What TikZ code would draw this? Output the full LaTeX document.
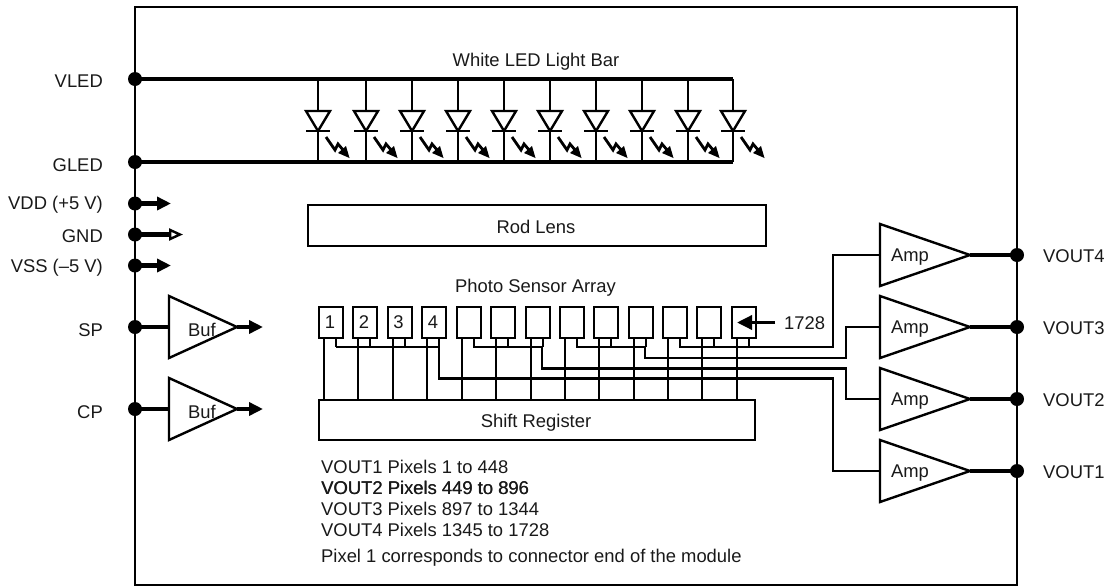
\documentclass[tikz,border=0pt]{standalone}
\usepackage{fontspec}
\setmainfont{Liberation Sans}
\usetikzlibrary{arrows.meta}
\tikzset{
  x=1pt,y=-1pt,
  lbl/.style={inner sep=0pt,font=\fontsize{18.4}{20}\selectfont,text=black!90},
  lblL/.style={lbl,anchor=east},
  lblR/.style={lbl,anchor=west},
  thick bar/.style={line width=4.4pt},
  wire/.style={line width=2.4pt},
  frameline/.style={line width=2.4pt},
  tri/.style={line width=2.4pt,line join=miter,fill=white},
  pindot/.style={circle,fill=black,inner sep=0pt,minimum size=14pt},
  boxs/.style={draw,line width=2.4pt,fill=white,inner sep=0pt,anchor=north west},
}
\newcommand{\LED}[2]{%
  \draw[wire] (#1,79) -- (#1,162);
  \draw[tri] (#1-12,111) -- (#1+12,111) -- (#1,131) -- cycle;
  \draw[wire] (#1-12,131) -- (#1+12,131);
  \draw[line width=2.8pt] (#1+8,137) -- (#1+17,150) -- (#1+20,144) -- (#1+26,151);
  \fill (#1+31.5,158) -- (#1+20,153) -- (#1+28,146) -- cycle;
}
\newcommand{\Amp}[2]{% name, centre y
  \coordinate (#1in) at (880,#2);
  \coordinate (#1out) at (970,#2);
  \node[pindot] (#1pin) at (1017,#2) {};
  \draw[thick bar] (#1out) -- (#1pin.center);
  \draw[tri] (880,#2-31) -- (970,#2) -- (880,#2+31) -- cycle;
  \node[lbl] (#1t) at (910,#2+2) {Amp};
}
\newcommand{\Buf}[2]{%
  \node[pindot] (#1pin) at (135,#2) {};
  \coordinate (#1tip) at (263,#2);
  \coordinate (#1apex) at (237,#2);
  \draw[thick bar] (#1pin.center) -- (169,#2);
  \draw[thick bar,-{Triangle[length=14pt,width=13pt]}] (#1apex) -- (#1tip);
  \draw[tri] (169,#2-31) -- (237,#2) -- (169,#2+31) -- cycle;
  \node[lbl] (#1t) at (202,#2+3) {Buf};
}
\newcommand{\Rail}[2]{%
  \node[pindot] (#1pin) at (135,#2) {};
  \coordinate (#1tip) at (171,#2);
  \draw[thick bar,-{Triangle[length=14pt,width=13pt]}] (#1pin.center) -- (#1tip);
}
\begin{document}
\begin{tikzpicture}
\useasboundingbox (0,0) rectangle (1112,587);
% frame
\draw[frameline] (135,7) rectangle (1017,585);
% LED bars
\foreach \p in {318,366,412,458,504,550,596,642,688,733}{\LED{\p}{}}
\node[pindot] (vledpin) at (135,79) {};
\node[pindot] (gledpin) at (135,162) {};
\coordinate (vledend) at (733,79);
\coordinate (gledend) at (733,162);
\draw[thick bar] (vledpin.center) -- (vledend);
\draw[thick bar] (gledpin.center) -- (gledend);
\node[lbl] (title) at (536,62) {White LED Light Bar};
% rails
\Rail{vdd}{203.5}
\Rail{vss}{265.5}
\node[pindot] (gndpin) at (135,234.5) {};
\coordinate (gndtip) at (183,234.5);
\draw[thick bar,-{Triangle[open,fill=white,length=14pt,width=12pt,line width=2.4pt]}] (gndpin.center) -- (gndtip);
% left labels
\node[lblL] (l1) at (103,81) {VLED};
\node[lblL] (l2) at (103,165) {GLED};
\node[lblL] (l3) at (103,205) {VDD (+5 V)};
\node[lblL] (l4) at (103,236) {GND};
\node[lblL] (l5) at (103,268) {VSS (–5 V)};
\node[lblL] (l6) at (103,330) {SP};
\node[lblL] (l7) at (103,412) {CP};
% buffers
\Buf{sp}{327}
\Buf{cp}{409}
% rod lens
\node[boxs,minimum width=458pt,minimum height=40.5pt] (rod) at (307,204) {};
\node[lbl] (rodt) at (536,226.5) {Rod Lens};
% sensors
\node[lbl] (psa) at (535.5,288) {Photo Sensor Array};
\node[boxs,minimum width=436pt,minimum height=40pt] (sr) at (318,399) {};
\node[lbl] (srt) at (536,423) {Shift Register};
\foreach \l in {318,352,387,421,456,490,525,559,593,628,662,696,731}{
  \draw[wire] (\l+6,337) -- (\l+6,399);
  \draw[wire] (\l+18,337) -- (\l+18,347);
  \node[boxs,minimum width=24pt,minimum height=31pt] at (\l,306) {};
}
\node[lbl] (n1) at (330,322) {1};
\node[lbl] (n2) at (364,322) {2};
\node[lbl] (n3) at (398.5,322) {3};
\node[lbl] (n4) at (433,322) {4};
% amps
\Amp{a4}{255}
\Amp{a3}{327}
\Amp{a2}{399}
\Amp{a1}{471}
\node[lblR] (r4) at (1043,256) {VOUT4};
\node[lblR] (r3) at (1043,328) {VOUT3};
\node[lblR] (r2) at (1043,400) {VOUT2};
\node[lblR] (r1) at (1043,472) {VOUT1};
% buses
\draw[wire] (336,347) -- (439,347) -- (439,378.5) -- (833,378.5) -- (833,471) -- (a1in);
\draw[wire] (473,347) -- (542,347) -- (542,368.5) -- (846,368.5) -- (846,399) -- (a2in);
\draw[wire] (576,347) -- (645,347) -- (645,358) -- (846,358) -- (846,327) -- (a3in);
\draw[wire] (679,347) -- (833,347) -- (833,255) -- (a4in);
% arrow to pixel 1728
\coordinate (pxtail) at (775,322.5);
\coordinate (pxtip) at (737,322.5);
\draw[line width=3.4pt,-{Triangle[length=15pt,width=14pt]}] (pxtail) -- (pxtip);
\node[lblR] (px) at (784,323) {1728};
% notes
\node[lblR] (t1) at (321,467) {VOUT1 Pixels 1 to 448};
\node[lblR] (t2) at (321,488) {VOUT2 Pixels 449 to 896};
\node[lblR] (t2b) at (321.4,488) {VOUT2 Pixels 449 to 896};
\node[lblR] (t3) at (321,509) {VOUT3 Pixels 897 to 1344};
\node[lblR] (t4) at (321,530) {VOUT4 Pixels 1345 to 1728};
\node[lblR] (t5) at (321,558) {Pixel 1 corresponds to connector end of the module};
\end{tikzpicture}
\end{document}
